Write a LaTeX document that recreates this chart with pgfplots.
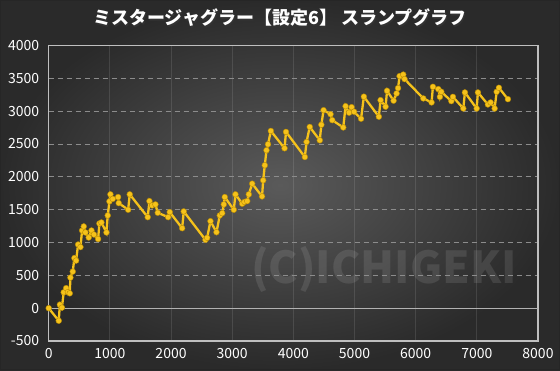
\documentclass[border=0pt]{standalone}
\usepackage{fontspec}
\setmainfont{Noto Sans CJK JP}
\usepackage{pgfplots}
\pgfplotsset{compat=1.18}
\definecolor{linecol}{HTML}{F5C21B}
\definecolor{markedge}{HTML}{B88A00}
\definecolor{bginner}{HTML}{5A5A5A}
\definecolor{bgouter}{HTML}{2A2A2A}
\begin{document}
\begin{tikzpicture}
\shade[inner color=bginner, outer color=bgouter] (0pt,0pt) rectangle (560pt,370pt);
\draw[black!85, line width=1pt] (0.5pt,0.5pt) rectangle (559.5pt,369.5pt);
\node[text=black!80, font=\bfseries\fontsize{18}{21}\selectfont] at (281pt,350.8pt) {ミスタージャグラー【設定6】 スランプグラフ};
\node[text=white, font=\bfseries\fontsize{18}{21}\selectfont] at (280pt,352pt) {ミスタージャグラー【設定6】 スランプグラフ};
\node[text=white, opacity=0.10, font=\bfseries\fontsize{44}{48}\selectfont] at (384pt,100pt) {(C)ICHIGEKI};
\begin{axis}[
  at={(48.7pt,29pt)}, anchor=south west,
  scale only axis, width=489.3pt, height=295.5pt,
  xmin=0, xmax=8000, ymin=-500, ymax=4000,
  xtick={0,1000,...,8000}, ytick={-500,0,...,4000},
  axis line style={draw=white!75!black, line width=1.3pt},
  tick style={draw=none},
  ticklabel style={text=white, font=\fontsize{14}{16}\selectfont},
  /pgf/number format/assume math mode=true,
  /pgf/number format/set thousands separator={},
  xmajorgrids, ymajorgrids,
  x grid style={draw=white, opacity=0.11, line width=0.8pt},
  y grid style={draw=white!55!black, dashed, line width=0.7pt, dash pattern=on 5pt off 4pt},
  xticklabel style={yshift=-4pt},
  yticklabel style={xshift=-6pt},
  clip=false,
]
\draw[white!70!black, line width=1.2pt] (axis cs:0,0) -- (axis cs:8000,0);
\addplot[color=linecol, line width=2.3pt, mark=*, mark size=2.9pt,
  mark options={fill=linecol, draw=markedge, line width=0.4pt}] table {
x y
0 0
164 -191
183 53
216 8
245 241
285 305
314 244
344 226
355 466
393 557
420 763
448 725
481 969
519 931
546 1183
573 1244
600 1153
654 1076
699 1183
739 1122
808 1053
829 1290
862 1305
944 1153
965 1412
993 1626
1009 1733
1047 1664
1135 1692
1145 1600
1299 1499
1325 1733
1619 1386
1647 1631
1691 1565
1745 1580
1783 1453
1953 1386
1979 1463
2182 1218
2208 1473
2563 1041
2591 1072
2645 1325
2743 1157
2797 1412
2837 1447
2863 1580
2879 1692
3026 1499
3054 1733
3164 1591
3201 1618
3246 1631
3272 1733
3327 1896
3488 1702
3507 1947
3533 2176
3561 2405
3586 2496
3632 2699
3856 2435
3880 2684
4188 2302
4216 2531
4268 2760
4432 2557
4458 2794
4494 3015
4608 2954
4636 2863
4816 2752
4854 3076
4911 2977
4952 3061
4993 2992
5107 2885
5153 3221
5398 2916
5426 3168
5508 3069
5532 3310
5639 3160
5688 3270
5712 3351
5737 3534
5797 3557
5818 3489
6125 3194
6260 3133
6282 3371
6370 3336
6396 3218
6419 3295
6583 3153
6609 3218
6779 3041
6805 3285
6997 3041
7018 3285
7181 3102
7226 3133
7291 3041
7324 3295
7361 3356
7508 3183
};
\end{axis}
\end{tikzpicture}
\end{document}
